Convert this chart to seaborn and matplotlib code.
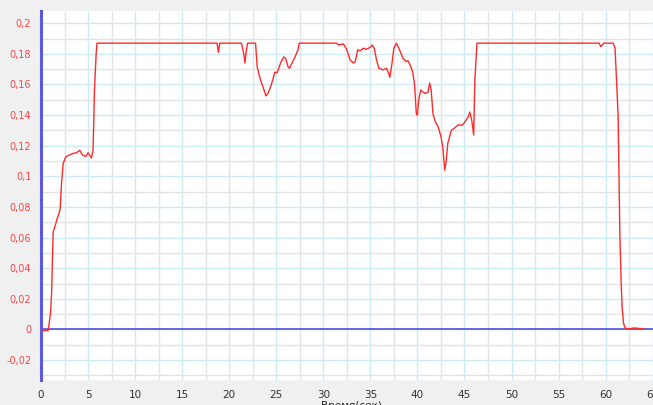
"""
Rebuild of the time-response chart (Время, сек).
"""

import matplotlib
matplotlib.use("Agg")
import matplotlib.pyplot as plt
import matplotlib.ticker as mticker
import pandas as pd
import seaborn as sns

# time (s) and signal values
time_s = [
    0.0, 0.77, 1.02, 1.13, 1.23, 1.30, 1.52, 1.72, 1.93, 2.04, 2.18, 2.36, 2.64,
    3.07, 3.4, 3.77, 4.12, 4.4, 4.76, 5.0, 5.36, 5.53, 5.68, 5.86, 5.95,
    18.7, 18.85, 19.0, 21.3, 21.55, 21.67, 21.8, 21.95,
    22.8, 22.97, 23.15, 23.33, 23.7, 23.9, 24.1, 24.4, 24.63, 24.84, 25.1, 25.45,
    25.8, 26.0, 26.25, 26.4, 26.67, 27.0, 27.3, 27.45,
    31.4, 31.6, 32.14, 32.5, 32.85, 33.2, 33.4, 33.65, 33.9, 34.25, 34.6, 34.96,
    35.2, 35.4, 35.66, 35.9, 36.36, 36.7, 36.9, 37.07, 37.3, 37.5, 37.77, 38.1,
    38.47, 38.8, 39.0, 39.3, 39.5, 39.7, 39.88, 40.0, 40.13, 40.35, 40.6, 40.83,
    41.12, 41.3, 41.46, 41.65, 41.9, 42.2, 42.5, 42.7, 42.9, 43.05, 43.23, 43.6,
    43.9, 44.3, 44.8, 45.17, 45.4, 45.56, 45.77, 45.98, 46.1, 46.33,
    59.3, 59.5, 59.8, 60.8, 61.0, 61.2, 61.33, 61.4, 61.5, 61.64, 61.75, 61.9,
    62.1, 62.6, 63.0, 63.5, 64.0,
]
signal = [
    -0.001, -0.0005, 0.011, 0.0246, 0.05, 0.064, 0.068, 0.0725, 0.076, 0.079,
    0.0954, 0.1085, 0.1128, 0.114, 0.115, 0.1154, 0.117, 0.114, 0.113, 0.1154,
    0.112, 0.117, 0.156, 0.180, 0.187,
    0.187, 0.181, 0.187, 0.187, 0.180, 0.174, 0.181, 0.187,
    0.187, 0.1716, 0.167, 0.163, 0.1564, 0.1525, 0.154, 0.1586, 0.163, 0.168,
    0.1677, 0.174, 0.178, 0.177, 0.1716, 0.1706, 0.174, 0.178, 0.1826, 0.187,
    0.187, 0.1858, 0.1865, 0.1826, 0.176, 0.174, 0.175, 0.1826, 0.182, 0.1837,
    0.183, 0.1843, 0.1858, 0.1837, 0.176, 0.1706, 0.1695, 0.1706, 0.168, 0.1647,
    0.174, 0.1837, 0.187, 0.1826, 0.177, 0.175, 0.1755, 0.1716, 0.168, 0.1597,
    0.141, 0.140, 0.150, 0.1564, 0.155, 0.1542, 0.155, 0.161, 0.1564, 0.141,
    0.1357, 0.1324, 0.126, 0.119, 0.104, 0.1096, 0.1216, 0.130, 0.1314, 0.1335,
    0.1335, 0.1368, 0.139, 0.142, 0.1368, 0.127, 0.163, 0.187,
    0.187, 0.1847, 0.187, 0.187, 0.1837, 0.156, 0.139, 0.1085, 0.065, 0.032,
    0.0148, 0.004, 0.0007, 0.0005, 0.001, 0.0007, 0.0005,
]

X_LIMITS = (0, 65)
Y_LIMITS = (-0.033, 0.208)
X_LABEL = "Время(сек)"

BG = "#f0f0f0"
RED = "#ff2a2a"
AXIS_BLUE = "#5a5ae0"


def comma_fmt(v, _pos):
    s = f"{round(v, 2):.2f}".rstrip("0").rstrip(".")
    if s in ("-0", ""):
        s = "0"
    return s.replace(".", ",")


df = pd.DataFrame({"t": time_s, "v": signal})

sns.set_style("white")
plt.rcParams["font.family"] = ["DejaVu Sans"]

fig = plt.figure(figsize=(6.53, 4.05), dpi=100, facecolor=BG)
ax = fig.add_axes([41 / 653, 25 / 405, 611.7 / 653, 369 / 405])
ax.set_facecolor("white")

# grid: light blue majors, grey minors
ax.xaxis.set_major_locator(mticker.MultipleLocator(5))
ax.xaxis.set_minor_locator(mticker.MultipleLocator(2.5))
ax.yaxis.set_major_locator(mticker.MultipleLocator(0.02))
ax.yaxis.set_minor_locator(mticker.MultipleLocator(0.01))
ax.grid(which="minor", color="#e3e3e3", lw=1.0, zorder=0)
ax.grid(which="major", color="#cde9f6", lw=1.0, zorder=0)
ax.set_axisbelow(True)

ax.axhline(0, color=AXIS_BLUE, lw=1.3, zorder=2)
sns.lineplot(data=df, x="t", y="v", color=RED, lw=1.0, ax=ax, zorder=3)

ax.set_xlim(*X_LIMITS)
ax.set_ylim(*Y_LIMITS)
ax.yaxis.set_major_formatter(mticker.FuncFormatter(comma_fmt))

for side in ("top", "right", "bottom"):
    ax.spines[side].set_visible(False)
ax.spines["left"].set_color(AXIS_BLUE)
ax.spines["left"].set_linewidth(2.2)

ax.tick_params(axis="y", which="both", direction="out", length=5, width=1.3,
               color="#ff5050", labelcolor="#ff4545", labelsize=7, pad=2)
ax.tick_params(axis="x", which="both", direction="out", length=3, width=1.0,
               color="#222222", labelcolor="#333333", labelsize=7.5, pad=4)

ax.set_xlabel(X_LABEL, fontsize=7.5, color="#222222")
ax.xaxis.set_label_coords(0.508, -0.057)
ax.xaxis.label.set_va("top")
ax.set_ylabel("")

fig.savefig("out.png", dpi=100, facecolor=BG)
plt.close(fig)
